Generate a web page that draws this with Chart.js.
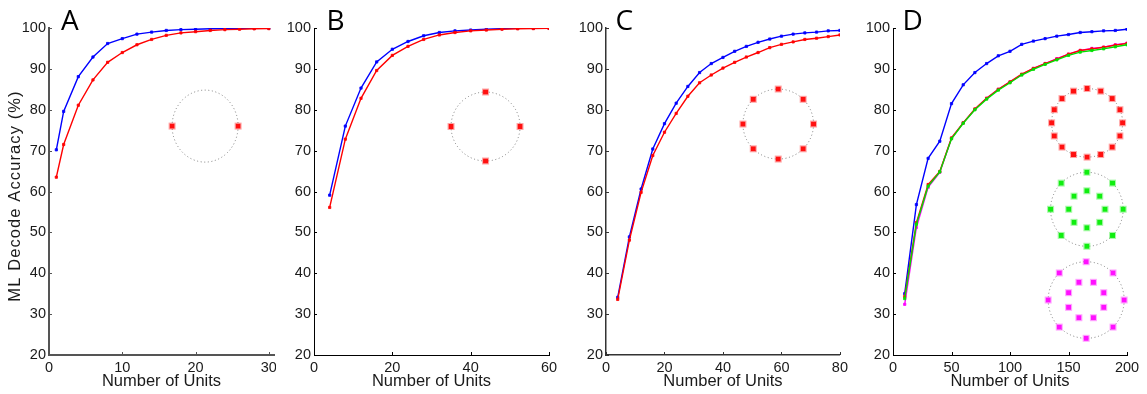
<!DOCTYPE html>
<html><head><meta charset="utf-8">
<script src="https://cdn.jsdelivr.net/npm/chart.js@4.4.0/dist/chart.umd.min.js"></script>
<style>
html,body{margin:0;padding:0;background:#fff;}
#wrap{position:relative;width:1147px;height:394px;overflow:hidden;background:#fff}
canvas{position:absolute;top:0;background:#fff}
</style></head><body>
<div id="wrap">
<canvas id="cA" width="282" height="394" style="left:0px"></canvas>
<canvas id="cB" width="290" height="394" style="left:276px"></canvas>
<canvas id="cC" width="286" height="394" style="left:566px"></canvas>
<canvas id="cD" width="295" height="394" style="left:852px"></canvas>
</div>
<script>
// ---------- data ----------
const yTicks = [20,30,40,50,60,70,80,90,100];

const unitsA = [1,2,4,6,8,10,12,14,16,18,20,22,24,26,28,30];
const blueA  = [70.2,79.6,88.1,92.9,96.2,97.4,98.5,99.0,99.4,99.6,99.7,99.8,99.85,99.9,99.9,99.95];
const redA   = [63.5,71.5,81.1,87.3,91.6,94.0,95.9,97.2,98.2,98.8,99.1,99.4,99.6,99.7,99.8,99.85];
const xTicksA = [0,10,20,30];

const unitsB = [4,8,12,16,20,24,28,32,36,40,44,48,52,56,60];
const blueB  = [59.1,76.0,85.3,91.7,94.8,96.7,98.1,98.9,99.3,99.5,99.7,99.85,99.9,99.95,100];
const redB   = [56.1,72.8,82.8,89.6,93.3,95.5,97.2,98.3,98.9,99.3,99.5,99.7,99.8,99.85,99.9];
const xTicksB = [0,20,40,60];

const unitsC = [4,8,12,16,20,24,28,32,36,40,44,48,52,56,60,64,68,72,76,80];
const blueC  = [34.1,48.9,60.6,70.4,76.6,81.6,85.7,89.1,91.3,92.8,94.3,95.5,96.5,97.3,98.0,98.5,98.8,99.0,99.3,99.4];
const redC   = [33.6,48.1,59.8,68.8,74.5,79.1,83.3,86.6,88.5,90.2,91.6,92.9,94.0,95.2,96.0,96.6,97.2,97.5,97.9,98.3];
const xTicksC = [0,20,40,60,80];

const unitsD   = [10,20,30,40,50,60,70,80,90,100,110,120,130,140,150,160,170,180,190,200];
const blueD    = [35.0,56.8,68.1,72.3,81.5,86.1,89.1,91.3,93.2,94.3,96.0,96.8,97.4,98.0,98.4,98.9,99.1,99.3,99.4,99.7];
const redD     = [34.3,52.4,61.7,64.9,73.1,76.8,80.2,82.8,85.0,86.8,88.7,90.1,91.3,92.4,93.6,94.5,94.9,95.3,95.8,96.2];
const greenD   = [33.8,52.0,61.3,64.8,72.9,76.7,80.0,82.6,84.8,86.6,88.5,89.9,91.1,92.2,93.3,94.1,94.5,94.9,95.4,95.9];
const magentaD = [32.4,51.2,61.0,64.7,73.0,76.8,80.1,82.8,85.0,86.8,88.6,90.1,91.3,92.5,93.6,94.5,95.0,95.3,95.9,96.3];
const xTicksD = [0,50,100,150,200];

// target layouts in the insets: [angle in degrees, radius as fraction of ring]
const targetsA = [[0,1],[180,1]];
const targetsB = [[0,1],[90,1],[180,1],[270,1]];
const targetsC = [[0,1],[45,1],[90,1],[135,1],[180,1],[225,1],[270,1],[315,1]];
const targetsD16 = [[0,1],[22.5,1],[45,1],[67.5,1],[90,1],[112.5,1],[135,1],[157.5,1],
                    [180,1],[202.5,1],[225,1],[247.5,1],[270,1],[292.5,1],[315,1],[337.5,1]];
const targetsDGreen = [[0,1],[45,1],[90,1],[135,1],[180,1],[225,1],[270,1],[315,1],
                       [0,0.5],[45,0.5],[90,0.5],[135,0.5],[180,0.5],[225,0.5],[270,0.5],[315,0.5]];
const targetsDMagenta = [[0,1],[45,1],[90,1],[135,1],[180,1],[225,1],[270,1],[315,1],
                         [22.5,0.5],[67.5,0.5],[112.5,0.5],[157.5,0.5],[202.5,0.5],[247.5,0.5],[292.5,0.5],[337.5,0.5]];

// ---------- rendering ----------
Chart.defaults.font.family = '"Liberation Sans", Arial, Helvetica, sans-serif';
Chart.defaults.color = '#1a1a1a';

const insetPlugin = {
  id: 'insets',
  afterDatasetsDraw(chart, args, opts) {
    const ctx = chart.ctx, xs = chart.scales.x, ys = chart.scales.y;
    (opts.items || []).forEach(it => {
      const cx = xs.getPixelForValue(it.x), cy = ys.getPixelForValue(it.y);
      ctx.save();
      ctx.strokeStyle = '#7a7a7a';
      ctx.lineWidth = 1;
      ctx.setLineDash([1, 2.6]);
      ctx.beginPath();
      ctx.ellipse(cx, cy, it.rx, it.ry, 0, 0, Math.PI * 2);
      ctx.stroke();
      ctx.setLineDash([]);
      it.targets.forEach(([a, f]) => {
        const rad = a * Math.PI / 180;
        const px = cx + Math.cos(rad) * it.rx * f;
        const py = cy - Math.sin(rad) * it.ry * f;
        const s = 5;
        ctx.fillStyle = it.color;
        ctx.fillRect(px - s / 2, py - s / 2, s, s);
        ctx.strokeStyle = it.halo;
        ctx.lineWidth = 1;
        ctx.strokeRect(px - s / 2 - 0.5, py - s / 2 - 0.5, s + 1, s + 1);
      });
      ctx.restore();
    });
  }
};

const decorPlugin = {
  id: 'decor',
  afterDraw(chart, args, opts) {
    const ctx = chart.ctx, xs = chart.scales.x, ys = chart.scales.y, ca = chart.chartArea;
    ctx.save();
    // inward tick marks
    ctx.strokeStyle = opts.axisColor || '#111';
    ctx.lineWidth = 1;
    ctx.beginPath();
    xs.ticks.forEach(t => {
      const px = Math.round(xs.getPixelForValue(t.value)) + 0.5;
      ctx.moveTo(px, ca.bottom); ctx.lineTo(px, ca.bottom - 3);
    });
    ys.ticks.forEach(t => {
      const py = Math.round(ys.getPixelForValue(t.value)) + 0.5;
      ctx.moveTo(ca.left, py); ctx.lineTo(ca.left + 3, py);
    });
    ctx.stroke();
    // panel letter
    ctx.fillStyle = '#000';
    ctx.font = '28px "Open Sans", "Liberation Sans", sans-serif';
    ctx.textAlign = 'left';
    ctx.textBaseline = 'alphabetic';
    ctx.fillText(opts.letter, ca.left + opts.letterDx, 30);
    // y-axis title (panel A only)
    if (opts.yTitle) {
      ctx.translate(15.7, 196);
      ctx.rotate(-Math.PI / 2);
      ctx.font = '16.5px "Liberation Sans", Arial, sans-serif';
      try { ctx.letterSpacing = '1.1px'; } catch (e) {}
      ctx.textAlign = 'center';
      ctx.textBaseline = 'middle';
      ctx.fillStyle = '#1a1a1a';
      ctx.fillText(opts.yTitle, 0, 0);
    }
    ctx.restore();
  }
};

function line(data, xs, color) {
  return {
    data: xs.map((x, i) => ({x: x, y: data[i]})),
    borderColor: color, backgroundColor: color,
    borderWidth: 1.4, tension: 0,
    pointStyle: 'rect', pointRadius: 1.6, pointBorderWidth: 0.8,
    pointBorderColor: color, pointBackgroundColor: color
  };
}

function panel(id, cfg) {
  new Chart(document.getElementById(id), {
    type: 'line',
    data: { datasets: cfg.datasets },
    options: {
      responsive: false, animation: false,
      layout: { padding: { left: 0, right: cfg.padRight, top: 28, bottom: 0 } },
      plugins: {
        legend: { display: false }, tooltip: { enabled: false },
        insets: { items: cfg.insets },
        decor: { letter: cfg.letter, letterDx: cfg.letterDx, yTitle: cfg.yTitle, axisColor: cfg.axisColor }
      },
      scales: {
        x: {
          type: 'linear', min: 0, max: cfg.xMax,
          afterBuildTicks: s => { s.ticks = cfg.xTicks.map(v => ({value: v})); },
          afterFit: s => { s.height = 39; },
          grid: { display: false, drawTicks: false },
          border: { display: true, color: cfg.axisColor, width: cfg.axisWidth },
          ticks: { font: { size: 14.5 }, padding: 4, maxRotation: 0, autoSkip: false, color: '#1a1a1a' },
          title: { display: true, text: 'Number of Units', font: { size: 16.5 }, padding: { top: 0, bottom: 3 }, color: '#1a1a1a' }
        },
        y: {
          type: 'linear', min: 20, max: 100,
          afterBuildTicks: s => { s.ticks = yTicks.map(v => ({value: v})); },
          afterFit: s => { s.width = cfg.yWidth; },
          grid: { display: false, drawTicks: false },
          border: { display: true, color: cfg.axisColor, width: cfg.axisWidth },
          ticks: { font: { size: 14.5 }, padding: 3, autoSkip: false, color: '#1a1a1a' }
        }
      }
    },
    plugins: [insetPlugin, decorPlugin]
  });
}

panel('cA', {
  letter: 'A', letterDx: 12, yTitle: 'ML Decode Accuracy (%)',
  xMax: 30.7, xTicks: xTicksA, yWidth: 49, padRight: 8, axisColor: '#555', axisWidth: 2,
  datasets: [line(redA, unitsA, '#ff0000'), line(blueA, unitsA, '#0000ff')],
  insets: [{x: 21.3, y: 76.0, rx: 33, ry: 36, targets: targetsA, color: '#ff1010', halo: 'rgba(255,60,60,0.45)'}]
});
panel('cB', {
  letter: 'B', letterDx: 12.5,
  xMax: 60, xTicks: xTicksB, yWidth: 38, padRight: 17, axisColor: '#000', axisWidth: 1,
  datasets: [line(redB, unitsB, '#ff0000'), line(blueB, unitsB, '#0000ff')],
  insets: [{x: 43.8, y: 75.9, rx: 34.5, ry: 34.5, targets: targetsB, color: '#ff1010', halo: 'rgba(255,60,60,0.45)'}]
});
panel('cC', {
  letter: 'C', letterDx: 9.5,
  xMax: 80, xTicks: xTicksC, yWidth: 40, padRight: 11, axisColor: '#333', axisWidth: 1.5,
  datasets: [line(redC, unitsC, '#ff0000'), line(blueC, unitsC, '#0000ff')],
  insets: [{x: 58.9, y: 76.5, rx: 35.3, ry: 35, targets: targetsC, color: '#ff1010', halo: 'rgba(255,60,60,0.45)'}]
});
panel('cD', {
  letter: 'D', letterDx: 9.5,
  xMax: 200, xTicks: xTicksD, yWidth: 41, padRight: 20, axisColor: '#000', axisWidth: 1,
  datasets: [line(greenD, unitsD, '#00e000'), line(redD, unitsD, '#ff0000'),
             line(magentaD, unitsD, '#ff00ff'), line(blueD, unitsD, '#0000ff')],
  insets: [
    {x: 165.9, y: 76.8, rx: 35.5, ry: 34.3, targets: targetsD16, color: '#ff1010', halo: 'rgba(255,60,60,0.45)'},
    {x: 165.7, y: 55.65, rx: 36.3, ry: 37, targets: targetsDGreen, color: '#10ee10', halo: 'rgba(60,240,60,0.45)'},
    {x: 165.1, y: 33.45, rx: 38, ry: 38.3, targets: targetsDMagenta, color: '#ff10ff', halo: 'rgba(255,60,255,0.45)'}
  ]
});
</script>
</body></html>
